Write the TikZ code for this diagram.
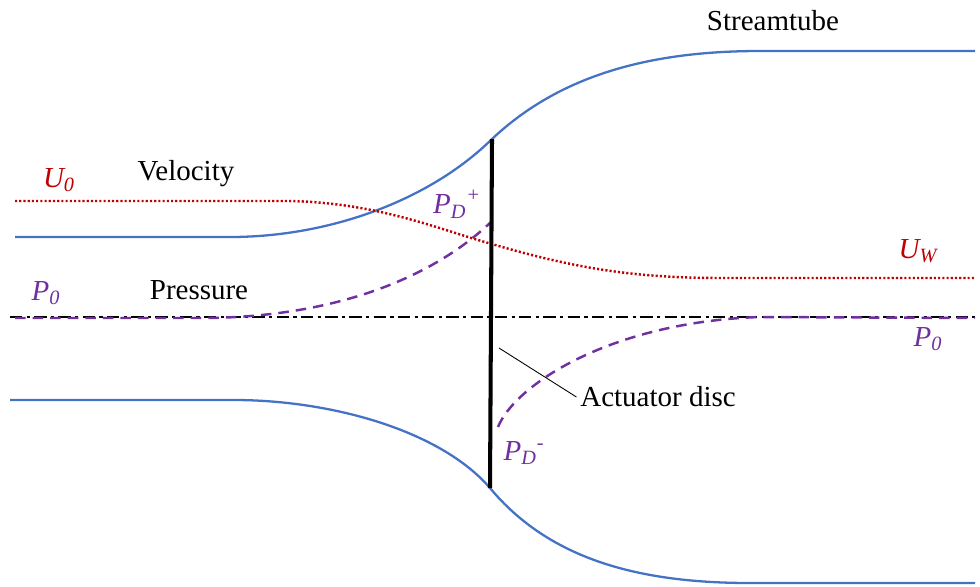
\documentclass[tikz,border=0pt]{standalone}
\usepackage{fontspec}
\setmainfont{Liberation Serif}
\usetikzlibrary{positioning}
\definecolor{TubeBlue}{HTML}{4472C4}
\definecolor{FlowRed}{HTML}{C00000}
\definecolor{PressPurple}{HTML}{7030A0}
\tikzset{
  tubeline/.style={draw=TubeBlue, line width=1.3pt},
  velline/.style={draw=FlowRed, line width=1.4pt, dash pattern=on 1.2pt off 1.2pt},
  presline/.style={draw=PressPurple, line width=1.4pt, dash pattern=on 6pt off 4pt},
  axisline/.style={draw=black, line width=0.7pt, dash pattern=on 7pt off 2.5pt on 1.8pt off 2.5pt},
  discline/.style={draw=black, line width=2.3pt},
  plainlabel/.style={font=\fontsize{16.5}{20}\selectfont, inner sep=2pt},
  redlabel/.style={plainlabel, text=FlowRed, font=\fontsize{16.5}{20}\selectfont\itshape},
  purplabel/.style={plainlabel, text=PressPurple, font=\fontsize{16.5}{20}\selectfont\itshape},
}

\begin{document}
\begin{tikzpicture}[x=0.02cm, y=-0.02cm]
  \useasboundingbox (0,0) rectangle (980,586);

  % streamtube
  \draw[tubeline] (15,237) -- (230,237) .. controls (330,237) and (430,200) .. (492,139)
    .. controls (560,75) and (650,51) .. (760,51) -- (975,51);
  \draw[tubeline] (10,400) -- (234,400) .. controls (330,400) and (440,430) .. (490,488)
    .. controls (550,560) and (640,583) .. (750,583) -- (975,583);

  % centre line
  \draw[axisline] (10,317) -- (975,317);

  % velocity
  \draw[velline] (15,201) -- (290,201) .. controls (380,203) and (440,230) .. (492,244)
    .. controls (580,270) and (640,278) .. (723,278) -- (975,278);

  % pressure
  \draw[presline] (15,318) -- (200,318) .. controls (330,318) and (430,280) .. (491,222);
  \draw[presline] (498,427) .. controls (515,385) and (610,322) .. (760,317) -- (975,318);

  % actuator disc
  \coordinate (disctop) at (492,139);
  \coordinate (discbot) at (490,488);
  \draw[discline] (disctop) -- (discbot);

  % labels
  \node[plainlabel] (tube) at (773,21) {Streamtube};
  \node[plainlabel] (vel) at (186,174) {Velocity};
  \node[plainlabel] (pres) at (199,290) {Pressure};
  \node[plainlabel] (adisc) at (658,397) {Actuator disc};
  \node[redlabel] (u0) at (59,180) {U\textsubscript{0}};
  \node[redlabel] (uw) at (918,251) {U\textsubscript{W}};
  \node[purplabel] (p0l) at (46,293) {P\textsubscript{0}};
  \node[purplabel] (p0r) at (928,339) {P\textsubscript{0}};
  \node[purplabel] (pdp) at (457,204) {P\textsubscript{D}\raisebox{1pt}{\textsuperscript{+}}};
  \node[purplabel] (pdm) at (524,453) {P\textsubscript{D}\textsuperscript{-}};

  % pointer to the disc
  \coordinate (discptr) at (499,348);
  \draw[line width=0.5pt] (discptr) -- (adisc.west);

\end{tikzpicture}
\end{document}
